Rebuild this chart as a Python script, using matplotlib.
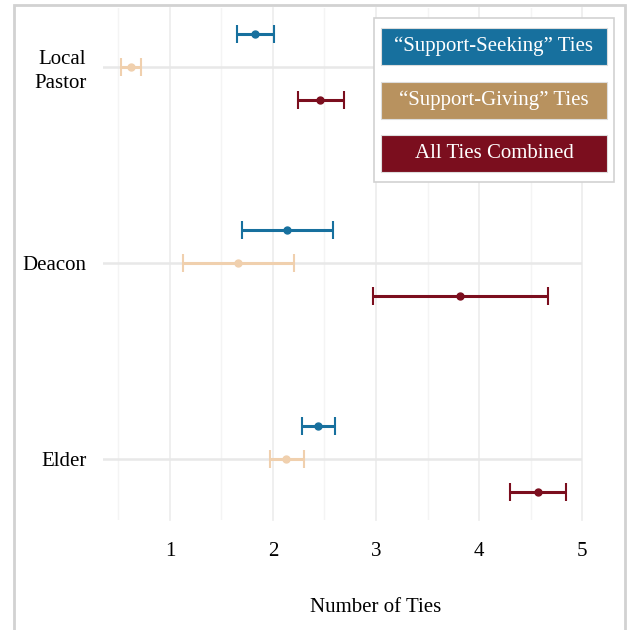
import matplotlib.pyplot as plt
from matplotlib.patches import Rectangle

# Data
roles = ["Local\nPastor", "Deacon", "Elder"]
series = ["\u201cSupport-Seeking\u201d Ties", "\u201cSupport-Giving\u201d Ties", "All Ties Combined"]

seeking_mean = [1.83, 2.14, 2.44]
seeking_low = [1.65, 1.70, 2.28]
seeking_high = [2.01, 2.58, 2.60]

giving_mean = [0.62, 1.66, 2.13]
giving_low = [0.52, 1.13, 1.97]
giving_high = [0.72, 2.20, 2.30]

combined_mean = [2.46, 3.82, 4.57]
combined_low = [2.24, 2.97, 4.30]
combined_high = [2.69, 4.67, 4.84]

plt.rcParams['font.family'] = ['Liberation Serif', 'DejaVu Serif']

fig = plt.figure(figsize=(6.29, 6.30), dpi=100)
ax = fig.add_axes([0.1638, 0.1746, 0.7615, 0.8127])

# outer frame of the image
fig.patches.append(Rectangle((14 / 629, -0.01), 611 / 629, 1 - 5 / 630 + 0.01,
                             transform=fig.transFigure, fill=False,
                             edgecolor='#d2d2d2', linewidth=2))

marker_colors = ['#17709e', '#f0d0ae', '#7b0e1e']
legend_colors = ['#17709e', '#b8925f', '#7b0e1e']
offsets = [-0.168, 0.0, 0.168]
data = [(seeking_mean, seeking_low, seeking_high),
        (giving_mean, giving_low, giving_high),
        (combined_mean, combined_low, combined_high)]

for k, (mean, low, high) in enumerate(data):
    ys = [i + offsets[k] for i in range(len(roles))]
    err = [[m - l for m, l in zip(mean, low)], [h - m for m, h in zip(mean, high)]]
    ax.errorbar(mean, ys, xerr=err, fmt='o', color=marker_colors[k],
                ecolor=marker_colors[k], elinewidth=2.2, capsize=6.5, capthick=1.5,
                markersize=5, zorder=3)

ax.set_xlim(0.35, 5.0)
ax.set_ylim(2.31, -0.30)
ax.set_yticks(range(len(roles)))
ax.set_yticklabels(roles, fontsize=15, linespacing=1.35)
ax.set_xticks([1, 2, 3, 4, 5])
ax.set_xticks([0.5, 1.5, 2.5, 3.5, 4.5], minor=True)
ax.tick_params(axis='both', length=0, which='both')
ax.tick_params(axis='x', labelsize=15, pad=16)
ax.tick_params(axis='y', pad=12)

ax.grid(axis='x', which='major', color='#ececec', linewidth=1.2, clip_on=False)
ax.grid(axis='x', which='minor', color='#f4f4f4', linewidth=1.0)
ax.grid(axis='y', which='major', color='#e8e8e8', linewidth=1.8)
ax.set_axisbelow(True)
for s in ax.spines.values():
    s.set_visible(False)

ax.set_xlabel("Number of Ties", fontsize=15)
ax.xaxis.set_label_coords((3 - 0.35) / 4.65, -0.152)

# legend box
fig.patches.append(Rectangle((374 / 629, 1 - 182 / 630), 240 / 629, 164 / 630,
                             transform=fig.transFigure, facecolor='white',
                             edgecolor='#d2d2d2', linewidth=1.2, zorder=5))
box_tops = [28, 82, 135]
for name, col, top in zip(series, legend_colors, box_tops):
    fig.patches.append(Rectangle((381 / 629, 1 - (top + 37) / 630), 226 / 629, 37 / 630,
                                 transform=fig.transFigure, facecolor=col,
                                 edgecolor='#dddddd', linewidth=0.8, zorder=6))
    fig.text(494 / 629, 1 - (top + 18.5) / 630, name, color='white', fontsize=15,
             ha='center', va='center', zorder=7)

plt.savefig("out.png", dpi=100)
